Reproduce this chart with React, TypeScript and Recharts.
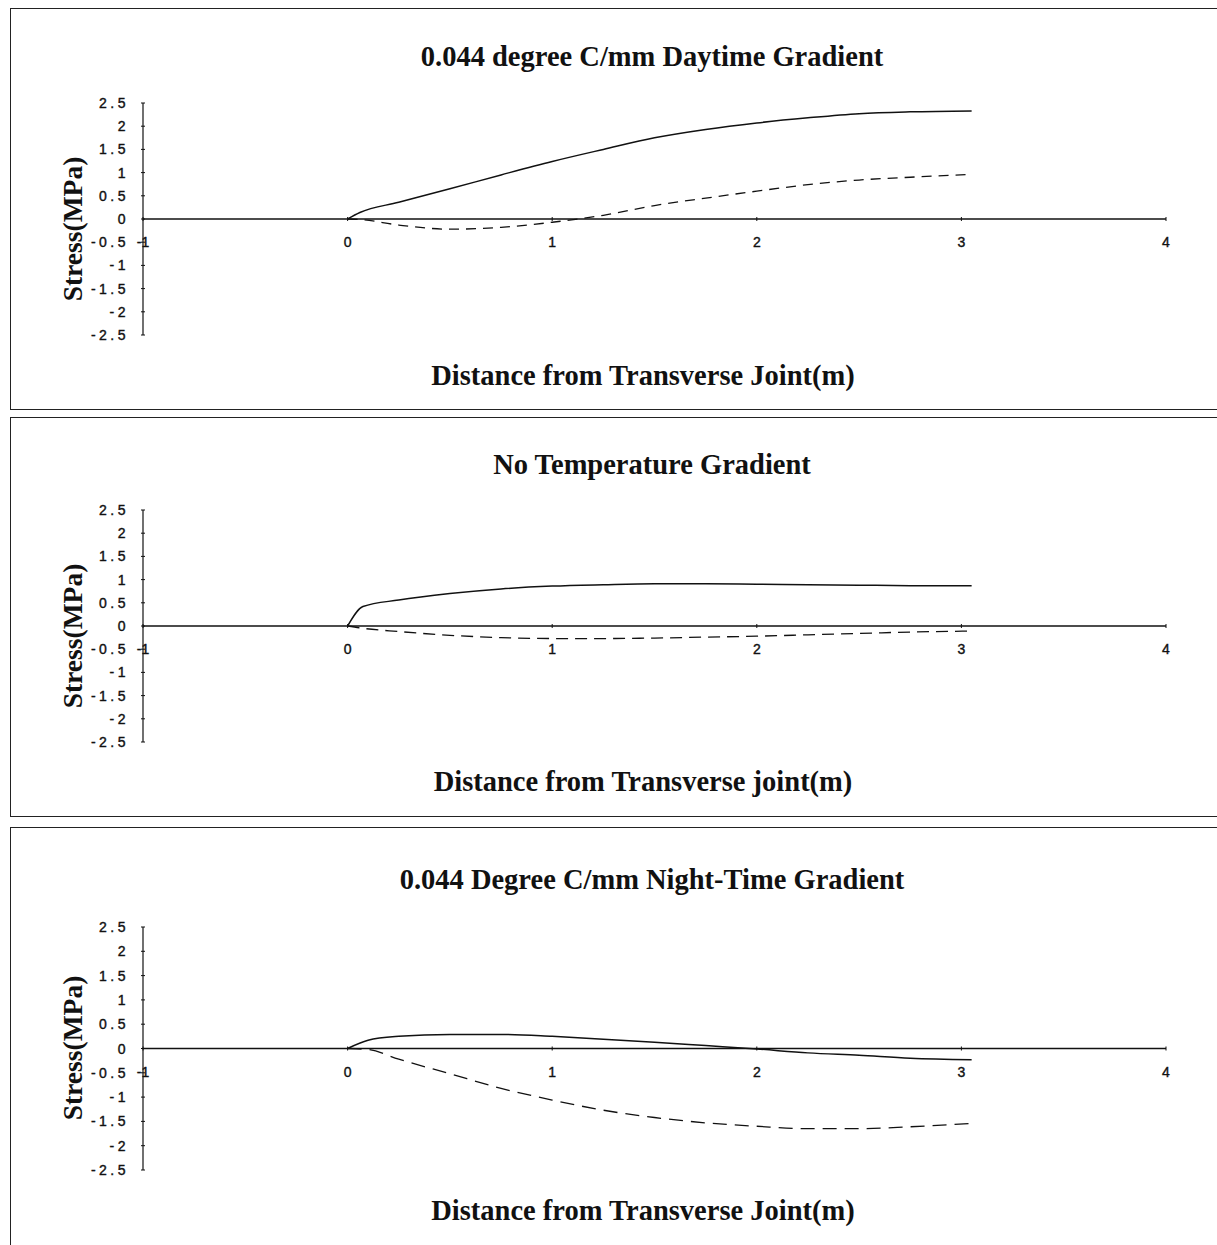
import React from 'react';
import { LineChart, Line, XAxis, YAxis, ReferenceLine } from 'recharts';

// distance from transverse joint (m)
const dayX = [0, 0.06, 0.25, 0.5, 0.75, 1, 1.25, 1.5, 1.75, 2, 2.25, 2.5, 2.75, 3.05];
const daySolid = [0, 0.14, 0.36, 0.65, 0.95, 1.24, 1.5, 1.75, 1.93, 2.07, 2.18, 2.27, 2.31, 2.33];
const dayDashed = [0, -0.01, -0.13, -0.22, -0.18, -0.07, 0.08, 0.29, 0.45, 0.6, 0.74, 0.84, 0.9, 0.96];

const noneX = [0, 0.075, 0.25, 0.5, 0.75, 1, 1.25, 1.5, 1.75, 2, 2.25, 2.5, 2.75, 3.05];
const noneSolid = [0, 0.42, 0.56, 0.7, 0.8, 0.86, 0.89, 0.91, 0.91, 0.9, 0.89, 0.88, 0.87, 0.87];
const noneDashed = [0, -0.05, -0.12, -0.2, -0.25, -0.27, -0.27, -0.26, -0.24, -0.22, -0.19, -0.16, -0.13, -0.11];

const nightX = [0, 0.1, 0.25, 0.5, 0.75, 1, 1.25, 1.5, 1.75, 2, 2.25, 2.5, 2.75, 3.05];
const nightSolid = [0, 0.17, 0.25, 0.29, 0.29, 0.25, 0.19, 0.13, 0.06, -0.01, -0.09, -0.14, -0.2, -0.23];
const nightDashed = [0, -0.02, -0.22, -0.52, -0.82, -1.06, -1.27, -1.42, -1.53, -1.6, -1.65, -1.65, -1.61, -1.54];

const xTicks = [-1, 0, 1, 2, 3, 4];
const yTicks = [2.5, 2, 1.5, 1, 0.5, 0, -0.5, -1, -1.5, -2, -2.5];

const titles = [
  '0.044 degree C/mm Daytime Gradient',
  'No Temperature Gradient',
  '0.044 Degree C/mm Night-Time Gradient',
];
const xTitles = [
  'Distance from Transverse Joint(m)',
  'Distance from Transverse joint(m)',
  'Distance from Transverse Joint(m)',
];

const build = (xs: number[], solid: number[], dashed: number[]) =>
  xs.map((x, i) => ({ x, solid: solid[i], dashed: dashed[i] }));

const panels = [
  { top: 8, height: 402, plotTop: 103, plotBottom: 335, titleY: 57, xTitleY: 376, yTitleY: 229,
    data: build(dayX, daySolid, dayDashed), dash: '10 7' },
  { top: 417, height: 400, plotTop: 510, plotBottom: 742, titleY: 465, xTitleY: 782, yTitleY: 636,
    data: build(noneX, noneSolid, noneDashed), dash: '12 7' },
  { top: 827, height: 440, plotTop: 927, plotBottom: 1170, titleY: 880, xTitleY: 1211, yTitleY: 1048,
    data: build(nightX, nightSolid, nightDashed), dash: '14 8' },
];

const W = 1217;
const PLOT_LEFT = 143;
const PLOT_RIGHT = 1166;
const AXIS_W = 20;
const AXIS_H = 20;
const serif = '"Liberation Serif", "Times New Roman", serif';
const sans = '"Liberation Sans", Arial, sans-serif';

const fmt = (v: number) => String(v);

const App: React.FC = () => {
  return (
    <div style={{ position: 'relative', width: W, height: 1245, background: '#fff', overflow: 'hidden' }}>
      <style>{'body{margin:0;background:#fff}'}</style>
      {panels.map((p, idx) => {
        const plotH = p.plotBottom - p.plotTop;
        const mTop = p.plotTop - p.top;
        const mBottom = p.height - (p.plotBottom - p.top) - AXIS_H;

        const XTick = (props: any) => {
          const { x, y, payload } = props;
          const zy = y - plotH / 2;
          return (
            <g>
              <line x1={x} x2={x} y1={zy - 2} y2={zy + 2} stroke="#111" strokeWidth={1} />
              <text x={x} y={zy + 28} textAnchor="middle" fontFamily={sans} fontSize={14} fill="#111"
                stroke="#111" strokeWidth={0.4}>
                {fmt(payload.value)}
              </text>
            </g>
          );
        };

        const YTick = (props: any) => {
          const { x, y, payload } = props;
          return (
            <g>
              <line x1={x - 2} x2={x + 2} y1={y} y2={y} stroke="#111" strokeWidth={1} />
              <text x={x - 14} y={y + 5} textAnchor="end" fontFamily={sans} fontSize={14}
                letterSpacing={3.5} fill="#111" stroke="#111" strokeWidth={0.4}>
                {fmt(payload.value)}
              </text>
            </g>
          );
        };

        return (
          <div key={idx}>
            <div
              style={{
                position: 'absolute', left: 10, top: p.top, width: W, height: p.height,
                border: '1.5px solid #222', borderRight: 'none', boxSizing: 'border-box',
              }}
            />
            <div style={{ position: 'absolute', left: 0, top: p.top }}>
              <LineChart
                width={W}
                height={p.height}
                data={p.data}
                margin={{ top: mTop, bottom: mBottom, left: PLOT_LEFT - AXIS_W, right: W - PLOT_RIGHT }}
              >
                <XAxis
                  dataKey="x"
                  type="number"
                  domain={[-1, 4]}
                  ticks={xTicks}
                  height={AXIS_H}
                  axisLine={false}
                  tickLine={false}
                  tickSize={0}
                  tickMargin={0}
                  tick={<XTick />}
                  interval={0}
                  allowDataOverflow
                />
                <YAxis
                  type="number"
                  domain={[-2.5, 2.5]}
                  ticks={yTicks}
                  width={AXIS_W}
                  axisLine={{ stroke: '#111', strokeWidth: 1.2 }}
                  tickLine={false}
                  tickSize={0}
                  tickMargin={0}
                  tick={<YTick />}
                  interval={0}
                  allowDataOverflow
                />
                <ReferenceLine y={0} stroke="#111" strokeWidth={1.5} />
                <Line
                  type="monotone"
                  dataKey="solid"
                  stroke="#111"
                  strokeWidth={1.5}
                  dot={false}
                  isAnimationActive={false}
                />
                <Line
                  type="monotone"
                  dataKey="dashed"
                  stroke="#111"
                  strokeWidth={1.3}
                  strokeDasharray={p.dash}
                  dot={false}
                  isAnimationActive={false}
                />
              </LineChart>
            </div>
            <div
              style={{
                position: 'absolute', left: 252, width: 800, top: p.titleY - 18, height: 36, lineHeight: '36px',
                textAlign: 'center', fontFamily: serif, fontWeight: 'bold', fontSize: 28.5, color: '#111',
              }}
            >
              {titles[idx]}
            </div>
            <div
              style={{
                position: 'absolute', left: 243, width: 800, top: p.xTitleY - 18, height: 36, lineHeight: '36px',
                textAlign: 'center', fontFamily: serif, fontWeight: 'bold', fontSize: 28.5, color: '#111',
              }}
            >
              {xTitles[idx]}
            </div>
            <div
              style={{
                position: 'absolute', left: 73 - 100, width: 200, top: p.yTitleY - 18, height: 36, lineHeight: '36px',
                textAlign: 'center', fontFamily: serif, fontWeight: 'bold', fontSize: 27.5, color: '#111',
                transform: 'rotate(-90deg)',
              }}
            >
              Stress(MPa)
            </div>
          </div>
        );
      })}
    </div>
  );
};

export default App;
